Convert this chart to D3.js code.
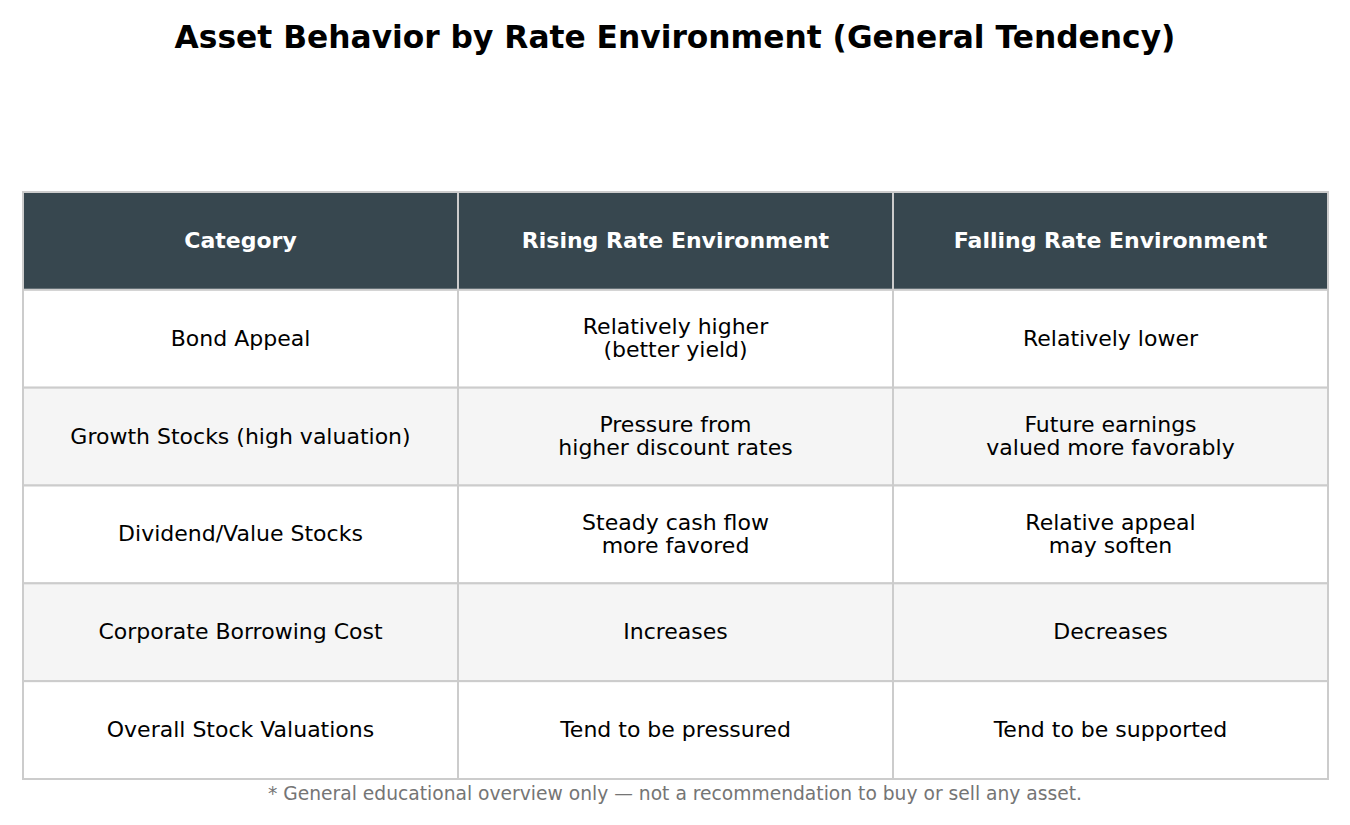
<!DOCTYPE html>
<html>
<head>
<meta charset="utf-8">
<script src="https://cdn.jsdelivr.net/npm/d3@7"></script>
<style>
  body { margin: 0; background: #fff; }
  svg { display: block; font-family: "DejaVu Sans", sans-serif; }
</style>
</head>
<body>
<svg id="chart" width="1350" height="825"></svg>
<script>
const title = "Asset Behavior by Rate Environment (General Tendency)";
const footnote = "* General educational overview only \u2014 not a recommendation to buy or sell any asset.";

const columns = ["Category", "Rising Rate Environment", "Falling Rate Environment"];
const categories = [
    "Bond Appeal",
    "Growth Stocks (high valuation)",
    "Dividend/Value Stocks",
    "Corporate Borrowing Cost",
    "Overall Stock Valuations"
];
const risingRate = [
    "Relatively higher\n(better yield)",
    "Pressure from\nhigher discount rates",
    "Steady cash flow\nmore favored",
    "Increases",
    "Tend to be pressured"
];
const fallingRate = [
    "Relatively lower",
    "Future earnings\nvalued more favorably",
    "Relative appeal\nmay soften",
    "Decreases",
    "Tend to be supported"
];

// rows of the table body, one per category
const rows = categories.map((c, i) => [c, risingRate[i], fallingRate[i]]);

const svg = d3.select("#chart");

const tableLeft = 23, tableRight = 1328, tableTop = 192, tableBottom = 779;

const xScale = d3.scaleBand()
    .domain(d3.range(columns.length))
    .range([tableLeft, tableRight]);

// header + body rows share the same height
const yScale = d3.scaleBand()
    .domain(d3.range(rows.length + 1))
    .range([tableTop, tableBottom]);

const lineHeight = 23;

// title
svg.append("text")
    .attr("x", 675)
    .attr("y", 48)
    .attr("text-anchor", "middle")
    .style("font-size", "31.3px")
    .style("font-weight", "bold")
    .style("fill", "#000")
    .text(title);

const cells = [];
columns.forEach((c, j) => cells.push({ row: 0, col: j, text: c, header: true }));
rows.forEach((r, i) => r.forEach((t, j) => cells.push({ row: i + 1, col: j, text: t, header: false })));

const cell = svg.append("g").selectAll(".cell")
    .data(cells)
    .enter()
    .append("g")
    .attr("class", "cell")
    .attr("transform", d => `translate(${xScale(d.col)}, ${yScale(d.row)})`);

cell.append("rect")
    .attr("width", xScale.bandwidth())
    .attr("height", yScale.bandwidth())
    .attr("fill", d => d.header ? "#37474f" : (d.row % 2 === 0 ? "#f5f5f5" : "#ffffff"))
    .attr("stroke", "#cccccc")
    .attr("stroke-width", 2);

cell.append("text")
    .attr("text-anchor", "middle")
    .style("font-size", "22px")
    .style("font-weight", d => d.header ? "bold" : "normal")
    .style("fill", d => d.header ? "#ffffff" : "#000000")
    .each(function(d) {
        const lines = d.text.split("\n");
        const cx = xScale.bandwidth() / 2;
        const cy = yScale.bandwidth() / 2;
        const y0 = cy - (lines.length - 1) * lineHeight / 2 + 7;
        d3.select(this).selectAll("tspan")
            .data(lines)
            .enter()
            .append("tspan")
            .attr("x", cx)
            .attr("y", (l, k) => y0 + k * lineHeight)
            .text(l => l);
    });

// footnote
svg.append("text")
    .attr("x", 675)
    .attr("y", 800)
    .attr("text-anchor", "middle")
    .style("font-size", "18.7px")
    .style("fill", "#757575")
    .text(footnote);
</script>
</body>
</html>
